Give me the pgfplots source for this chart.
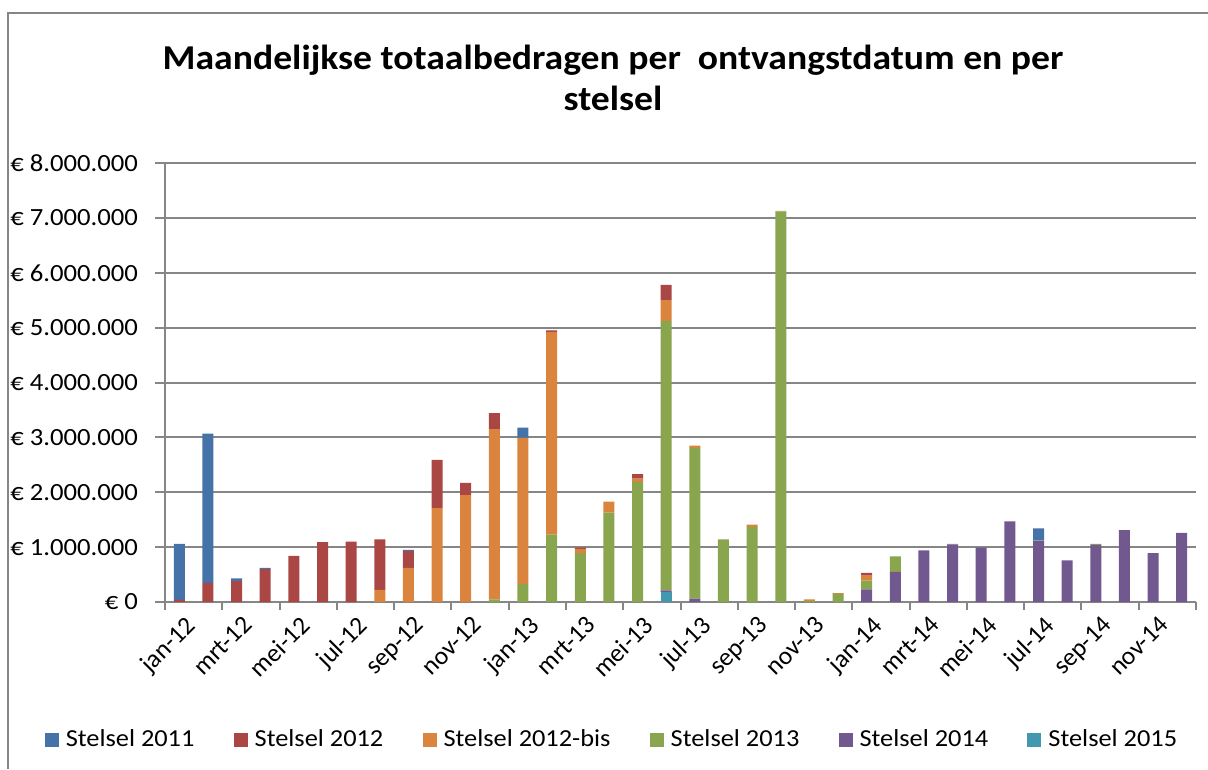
\documentclass[border=0pt]{standalone}
\usepackage{pgfplots}
\pgfplotsset{compat=1.18}
\usepackage{pgfplotstable}
\usepackage{fontspec}
\setmainfont{Carlito}[FakeStretch=1.08]
\newfontfamily\plainfont{Carlito}

\definecolor{cA}{HTML}{4572A7}
\definecolor{cB}{HTML}{AA4643}
\definecolor{cC}{HTML}{DB843D}
\definecolor{cD}{HTML}{89A54E}
\definecolor{cE}{HTML}{71588F}
\definecolor{cF}{HTML}{4198AF}
\definecolor{axgray}{HTML}{868686}

% values in millions of euro
\pgfplotstableread{
idx s2011 s2012 s2012bis s2013 s2014 s2015
0  1.02 0.04 0    0    0    0
1  2.72 0.35 0    0    0    0
2  0.05 0.38 0    0    0    0
3  0.02 0.60 0    0    0    0
4  0    0.84 0    0    0    0
5  0    1.09 0    0    0    0
6  0    1.10 0    0    0    0
7  0    0.92 0.22 0    0    0
8  0.02 0.31 0.62 0    0    0
9  0    0.88 1.71 0    0    0
10 0    0.22 1.95 0    0    0
11 0    0.29 3.10 0.05 0    0
12 0.19 0    2.66 0.33 0    0
13 0    0.03 3.69 1.23 0    0
14 0    0.02 0.08 0.89 0    0
15 0    0    0.20 1.63 0    0
16 0    0.08 0.06 2.19 0    0
17 0    0.28 0.38 4.91 0.03 0.18
18 0    0    0.04 2.75 0.06 0
19 0    0    0    1.14 0    0
20 0    0    0.04 1.37 0    0
21 0    0    0.01 7.12 0    0
22 0    0    0.03 0.02 0    0
23 0    0    0.01 0.15 0    0
24 0    0.05 0.09 0.16 0.23 0
25 0    0    0    0.28 0.55 0
26 0    0    0    0    0.94 0
27 0    0    0    0.01 1.05 0
28 0    0    0    0    0.99 0
29 0    0    0    0    1.47 0
30 0.22 0    0    0.01 1.11 0
31 0    0    0    0    0.76 0
32 0    0    0    0.02 1.04 0
33 0    0    0    0    1.31 0
34 0    0    0    0    0.89 0
35 0    0    0    0    1.26 0
}\data

\begin{document}
\begin{tikzpicture}[x=1bp,y=1bp]
\path[use as bounding box] (0,0) rectangle (604,384.5);
\draw[axgray, line width=1bp] (4,0) -- (4,378) -- (604,378);
\node[font=\fontsize{17.5}{21}\selectfont\bfseries, anchor=base, inner sep=0] at (306.5,350) {Maandelijkse totaalbedragen per~ ontvangstdatum en per};
\node[font=\fontsize{17.5}{21}\selectfont\bfseries, anchor=base, inner sep=0] at (306.5,329.5) {stelsel};
\begin{axis}[
  at={(82.5bp,83.5bp)}, anchor=south west,
  scale only axis, width=515.5bp, height=219.5bp,
  ybar stacked, bar width=5.5bp,
  xmin=-0.5, xmax=35.5, ymin=0, ymax=8,
  axis x line*=bottom, axis y line*=left,
  axis line style={-, draw=axgray, line width=1bp},
  ymajorgrids, major grid style={draw=axgray, line width=1bp},
  tick align=outside,
  ytick={0,1,...,8},
  yticklabels={€ 0,€ 1.000.000,€ 2.000.000,€ 3.000.000,€ 4.000.000,€ 5.000.000,€ 6.000.000,€ 7.000.000,€ 8.000.000},
  major tick length=5bp, minor tick length=4bp,
  tick style={draw=axgray, line width=1bp},
  xtick={0,2,...,34},
  xticklabels={jan-12,mrt-12,mei-12,jul-12,sep-12,nov-12,jan-13,mrt-13,mei-13,jul-13,sep-13,nov-13,jan-14,mrt-14,mei-14,jul-14,sep-14,nov-14},
  major x tick style={draw=none},
  minor xtick={-0.5,1.5,...,35.5},
  yticklabel style={font=\fontsize{12.4}{14}\selectfont, xshift=-5bp},
  xticklabel style={rotate=45, anchor=north east, inner sep=1bp, font=\plainfont\fontsize{12.8}{14}\selectfont, xshift=2bp, yshift=-1.5bp},
  legend style={at={(0.4345,-0.314)}, anchor=center, draw=none, fill=none,
    font=\fontsize{12.25}{14}\selectfont,
    /tikz/every even column/.append style={column sep=17.6bp}},
  legend columns=6, reverse legend,
  legend image code/.code={\fill[#1] (0bp,-3.5bp) rectangle (7bp,3.5bp); \path (8.5bp,0bp);},
]
\addplot[fill=cF, draw=none] table[x=idx, y=s2015] {\data};
\addlegendentry{Stelsel 2015}
\addplot[fill=cE, draw=none] table[x=idx, y=s2014] {\data};
\addlegendentry{Stelsel 2014}
\addplot[fill=cD, draw=none] table[x=idx, y=s2013] {\data};
\addlegendentry{Stelsel 2013}
\addplot[fill=cC, draw=none] table[x=idx, y=s2012bis] {\data};
\addlegendentry{Stelsel 2012-bis}
\addplot[fill=cB, draw=none] table[x=idx, y=s2012] {\data};
\addlegendentry{Stelsel 2012}
\addplot[fill=cA, draw=none] table[x=idx, y=s2011] {\data};
\addlegendentry{Stelsel 2011}
\end{axis}
\end{tikzpicture}
\end{document}
